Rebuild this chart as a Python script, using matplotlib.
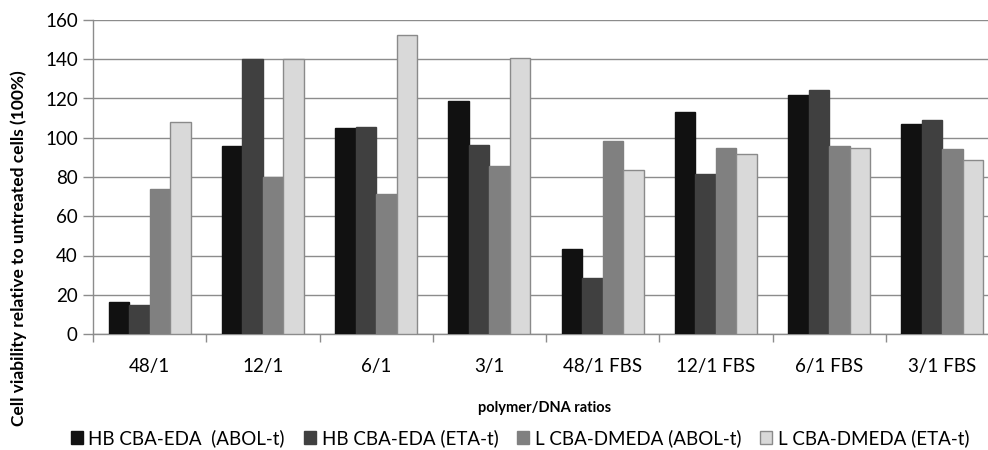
import matplotlib
matplotlib.use("Agg")
import matplotlib.pyplot as plt
import numpy as np

categories = ["48/1", "12/1", "6/1", "3/1", "48/1 FBS", "12/1 FBS", "6/1 FBS", "3/1 FBS"]
series_names = ["HB CBA-EDA  (ABOL-t)", "HB CBA-EDA (ETA-t)",
                "L CBA-DMEDA (ABOL-t)", "L CBA-DMEDA (ETA-t)"]
hb_abol = [16.5, 95.8, 104.8, 118.7, 43.3, 113.3, 121.9, 106.8]
hb_eta = [14.8, 140.0, 105.6, 96.5, 28.4, 81.4, 124.3, 109.0]
l_abol = [73.9, 80.2, 71.5, 85.6, 98.3, 94.8, 95.8, 94.4]
l_eta = [108.2, 140.0, 152.2, 140.8, 83.4, 91.9, 94.9, 88.7]
y_ticks = [0, 20, 40, 60, 80, 100, 120, 140, 160]

plt.rcParams['font.family'] = ['Lato', 'DejaVu Sans']

W, H = 988, 450
fig = plt.figure(figsize=(W / 100, H / 100), dpi=100)
ax = fig.add_axes([93 / W, 1 - 334 / H, 906 / W, 314 / H])

colors = ["#111111", "#404040", "#808080", "#d9d9d9"]
edges = ["#111111", "#404040", "#808080", "#8a8a8a"]
data = [hb_abol, hb_eta, l_abol, l_eta]
x = np.arange(len(categories))
bw = 0.181
for i, (vals, c, e, name) in enumerate(zip(data, colors, edges, series_names)):
    ax.bar(x + (i - 1.5) * bw, vals, width=bw, color=c, edgecolor=e,
           linewidth=1.0, label=name, zorder=3)

ax.set_xlim(-0.5, len(categories) - 0.5)
ax.set_ylim(0, 160)
ax.set_yticks(y_ticks)
ax.yaxis.grid(True, color="#8c8c8c", linewidth=1.0, zorder=0)
ax.set_axisbelow(True)
ax.set_xticks(x)
ax.set_xticklabels(categories, fontsize=13.5)
ax.set_xticks(np.arange(-0.5, len(categories), 1.0), minor=True)
ax.tick_params(axis="x", which="major", length=0, pad=17)
ax.tick_params(axis="x", which="minor", length=6, color="#8c8c8c", width=1)
ax.tick_params(axis="y", length=7, color="#8c8c8c", width=1, labelsize=13.5, pad=4)
for s in ["top", "right"]:
    ax.spines[s].set_visible(False)
for s in ["left", "bottom"]:
    ax.spines[s].set_color("#8c8c8c")
    ax.spines[s].set_linewidth(1.0)

fig.text(19 / W, 1 - 248 / H, "Cell viability relative to untreated cells (100%)",
         fontsize=12.5, fontweight="bold", rotation=90, ha="center", va="center")
fig.text(545 / W, 1 - 408 / H, "polymer/DNA ratios", fontsize=10.5, fontweight="bold",
         ha="center", va="center")

fig.legend(loc="center", bbox_to_anchor=(520 / W, 1 - 438 / H), ncol=4, frameon=False,
           fontsize=13.5, handlelength=0.65, handleheight=0.65, handletextpad=0.3,
           columnspacing=1.0)

fig.savefig("out.png", dpi=100)
